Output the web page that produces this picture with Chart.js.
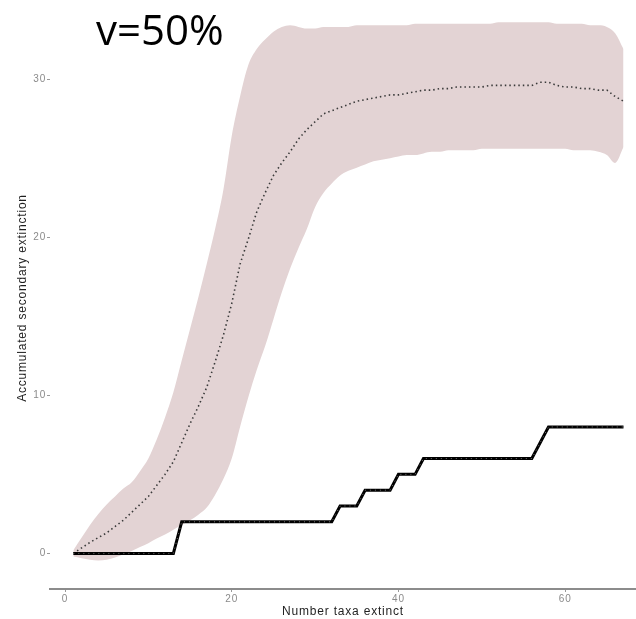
<!DOCTYPE html>
<html>
<head>
<meta charset="utf-8">
<script src="https://cdn.jsdelivr.net/npm/chart.js@4/dist/chart.umd.min.js"></script>
<style>
    body { margin: 0; background: #fff; }
    #wrap { position: relative; width: 636px; height: 619px; }
    #panelTitle {
        position: absolute; left: 96px; top: 8px;
        font-family: 'Open Sans', sans-serif; font-size: 42px; line-height: 42px;
        color: #000;
    }
</style>
</head>
<body>
<div id="wrap">
    <canvas id="extinctionChart"></canvas>
    <div id="panelTitle">v=50%</div>
</div>
<script>
const taxaExtinct = [1, 2, 3, 4, 5, 6, 7, 8, 9, 10, 11, 12, 13, 14, 15, 16, 17, 18, 19, 20,
    21, 22, 23, 24, 25, 26, 27, 28, 29, 30, 31, 32, 33, 34, 35, 36, 37, 38, 39, 40,
    41, 42, 43, 44, 45, 46, 47, 48, 49, 50, 51, 52, 53, 54, 55, 56, 57, 58, 59, 60,
    61, 62, 63, 64, 65, 66, 67];

const meanSecondary = [0.0, 0.35, 0.7, 1.0, 1.3, 1.7, 2.1, 2.6, 3.1, 3.6, 4.3, 5.0, 5.8, 7.0, 8.2, 9.3, 10.5, 12.1, 13.8, 15.8,
    18.3, 19.9, 21.6, 22.8, 23.9, 24.7, 25.4, 26.2, 26.8, 27.3, 27.8, 28.0, 28.2, 28.4, 28.6, 28.7, 28.8, 28.9, 29.0, 29.0,
    29.1, 29.2, 29.3, 29.3, 29.4, 29.4, 29.5, 29.5, 29.5, 29.5, 29.6, 29.6, 29.6, 29.6, 29.6, 29.6, 29.8, 29.8, 29.6, 29.5,
    29.5, 29.4, 29.4, 29.3, 29.3, 28.9, 28.6];

const upperBand = [0.2, 1.0, 1.8, 2.5, 3.1, 3.6, 4.1, 4.5, 5.2, 6.0, 7.2, 8.6, 10.2, 12.2, 14.2, 16.2, 18.3, 20.5, 23.0, 26.4,
    28.9, 30.9, 31.9, 32.5, 33.0, 33.3, 33.4, 33.3, 33.2, 33.2, 33.3, 33.3, 33.3, 33.3, 33.4, 33.4, 33.4, 33.4, 33.4, 33.4,
    33.4, 33.5, 33.5, 33.5, 33.5, 33.5, 33.5, 33.5, 33.5, 33.5, 33.5, 33.6, 33.6, 33.6, 33.6, 33.6, 33.6, 33.6, 33.5, 33.5,
    33.5, 33.5, 33.4, 33.4, 33.3, 32.9, 31.9];

const lowerBand = [-0.2, -0.3, -0.4, -0.45, -0.4, -0.25, -0.05, 0.15, 0.4, 0.65, 0.95, 1.2, 1.5, 1.8, 2.1, 2.45, 2.9, 3.7, 4.7, 6.0,
    8.0, 9.9, 11.6, 13.1, 14.8, 16.5, 18.0, 19.3, 20.5, 21.9, 22.8, 23.4, 23.9, 24.2, 24.4, 24.6, 24.8, 24.9, 25.0, 25.1,
    25.2, 25.2, 25.3, 25.4, 25.4, 25.5, 25.5, 25.5, 25.5, 25.6, 25.6, 25.6, 25.6, 25.6, 25.6, 25.6, 25.6, 25.6, 25.6, 25.6,
    25.5, 25.5, 25.5, 25.4, 25.2, 24.7, 25.7];

const observedSecondary = [0, 0, 0, 0, 0, 0, 0, 0, 0, 0, 0, 0, 0, 2, 2, 2, 2, 2, 2, 2,
    2, 2, 2, 2, 2, 2, 2, 2, 2, 2, 2, 2, 3, 3, 3, 4, 4, 4, 4, 5,
    5, 5, 6, 6, 6, 6, 6, 6, 6, 6, 6, 6, 6, 6, 6, 6, 7, 8, 8, 8,
    8, 8, 8, 8, 8, 8, 8];

const xTicks = [0, 20, 40, 60];
const yTicks = [0, 10, 20, 30];

function points(values) {
    return taxaExtinct.map((x, i) => ({ x: x, y: values[i] }));
}

// the original text is slightly wide, spread letters a little
const letterSpread = {
    id: 'letterSpread',
    beforeLayout: function(chart) { chart.ctx.letterSpacing = '0.8px'; },
    beforeDraw: function(chart) { chart.ctx.letterSpacing = '0.8px'; }
};

const ctx = document.getElementById('extinctionChart').getContext('2d');

const extinctionChart = new Chart(ctx, {
    type: 'line',
    data: {
        datasets: [{
            label: 'upper',
            data: points(upperBand),
            borderWidth: 0,
            pointRadius: 0,
            fill: false,
            cubicInterpolationMode: 'monotone',
            order: 4
        }, {
            label: 'lower',
            data: points(lowerBand),
            borderWidth: 0,
            pointRadius: 0,
            backgroundColor: 'rgb(227,211,212)',
            fill: '-1',
            cubicInterpolationMode: 'monotone',
            order: 3
        }, {
            label: 'mean',
            data: points(meanSecondary),
            borderColor: '#3a3a3a',
            borderWidth: 1.6,
            borderDash: [1.5, 3],
            pointRadius: 0,
            fill: false,
            order: 2
        }, {
            label: 'observed',
            data: points(observedSecondary),
            borderColor: '#000',
            borderWidth: 3,
            pointRadius: 0,
            fill: false,
            order: 1
        }, {
            label: 'observed dots',
            data: points(observedSecondary),
            borderColor: 'rgba(255,255,255,0.45)',
            borderWidth: 1,
            borderDash: [1, 4],
            pointRadius: 0,
            fill: false,
            order: 0
        }]
    },
    options: {
        responsive: true,
        maintainAspectRatio: false,
        animation: false,
        layout: { padding: 0 },
        plugins: {
            legend: { display: false },
            tooltip: { enabled: false }
        },
        scales: {
            x: {
                type: 'linear',
                min: -1.8,
                max: 68.5,
                afterBuildTicks: function(scale) {
                    scale.ticks = xTicks.map(v => ({ value: v }));
                },
                afterFit: function(scale) {
                    scale.height = 30;
                },
                grid: {
                    display: true,
                    drawOnChartArea: false,
                    tickLength: 3,
                    color: '#9a9a9a'
                },
                border: { display: true, color: '#8c8c8c', width: 2 },
                ticks: {
                    color: '#8a8a8a',
                    font: { family: 'Liberation Sans, Arial, sans-serif', size: 10 },
                    padding: 1,
                    maxRotation: 0
                },
                title: {
                    display: true,
                    text: 'Number taxa extinct',
                    color: '#1f1f1f',
                    font: { family: 'Liberation Sans, Arial, sans-serif', size: 12 },
                    padding: { top: 0, bottom: 0 }
                }
            },
            y: {
                min: -2.25,
                max: 34.56,
                afterBuildTicks: function(scale) {
                    scale.ticks = yTicks.map(v => ({ value: v }));
                },
                afterFit: function(scale) {
                    scale.width = 50;
                },
                grid: {
                    display: true,
                    drawOnChartArea: false,
                    tickLength: 3,
                    color: '#9a9a9a'
                },
                border: { display: false },
                ticks: {
                    color: '#8a8a8a',
                    font: { family: 'Liberation Sans, Arial, sans-serif', size: 10 },
                    padding: 1
                },
                title: {
                    display: true,
                    text: 'Accumulated secondary extinction',
                    color: '#1f1f1f',
                    font: { family: 'Liberation Sans, Arial, sans-serif', size: 12 },
                    padding: { top: 15, bottom: 0 }
                }
            }
        }
    },
    plugins: [letterSpread]
});
</script>
</body>
</html>
